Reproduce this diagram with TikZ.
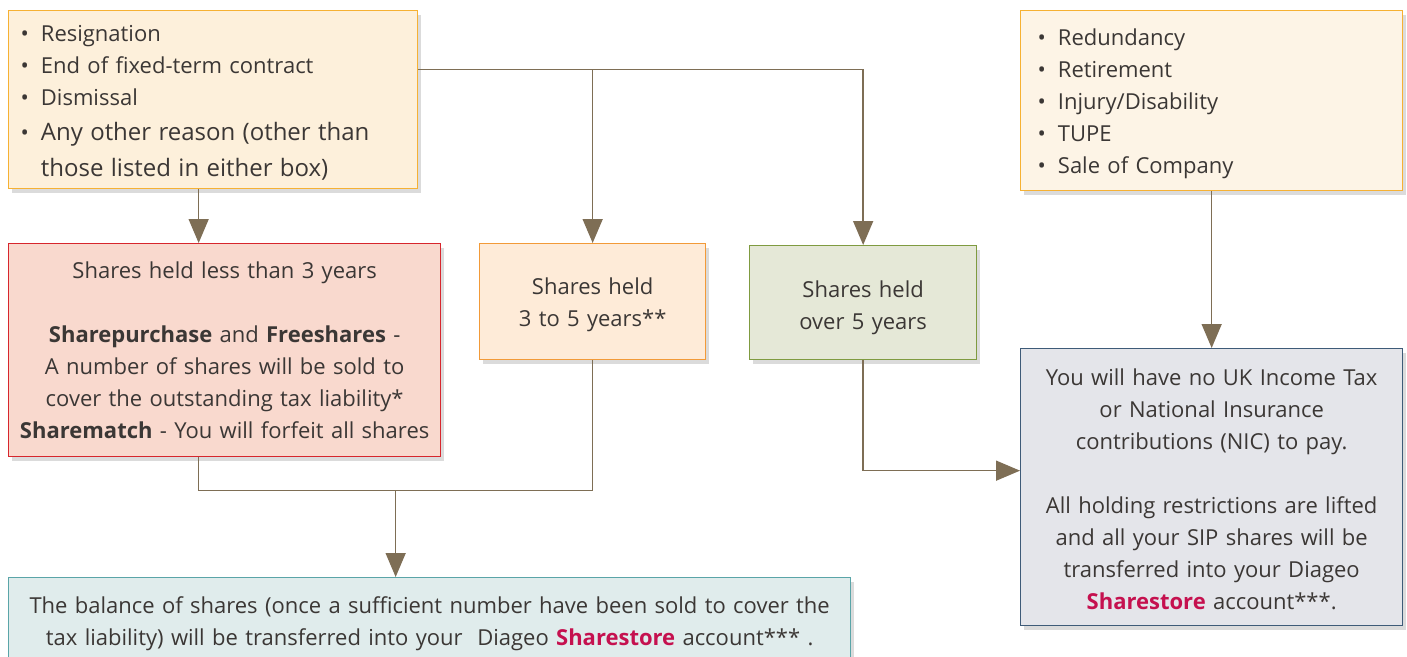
\documentclass[tikz,border=0pt]{standalone}
\usepackage{fontspec}
\setmainfont{Open Sans}
\usetikzlibrary{arrows.meta,shadows,calc}
\definecolor{txt}{HTML}{3B3735}
\definecolor{tlF}{HTML}{FDF0DB}
\definecolor{tlB}{HTML}{F6B133}
\definecolor{trF}{HTML}{FDF4E6}
\definecolor{redF}{HTML}{F9D9CE}
\definecolor{redB}{HTML}{D7262D}
\definecolor{orF}{HTML}{FEEBD8}
\definecolor{orB}{HTML}{F29A38}
\definecolor{grF}{HTML}{E5E8D7}
\definecolor{grB}{HTML}{7F9B40}
\definecolor{blF}{HTML}{E4E5EA}
\definecolor{blB}{HTML}{3E5B78}
\definecolor{teF}{HTML}{E0ECEC}
\definecolor{teB}{HTML}{5AA5A8}
\definecolor{arrC}{HTML}{7E6E55}
\definecolor{mag}{HTML}{C5114F}
\newcommand{\sst}{\textcolor{mag}{\textbf{Sharestore}}}
\newcommand{\up}[1]{\rule{0pt}{#1}}
\begin{document}
\begin{tikzpicture}[x=1pt,y=1pt,
  box/.style={draw, line width=1.3pt, inner sep=0pt, text=txt,
    font=\fontsize{22}{32}\selectfont,
    drop shadow={shadow xshift=3pt, shadow yshift=-4pt, opacity=0.14, fill=black}},
  conn/.style={draw=arrC, line width=1.5pt},
  arr/.style={conn, -{Triangle[width=20pt,length=24pt]}}]
\clip (0,0) rectangle (1407,-656);
\fill[white] (0,0) rectangle (1407,-656);

\node[box, draw=tlB, fill=tlF, minimum width=409pt, minimum height=178pt,
  anchor=north west, text width=385pt, align=left] (tl) at (8,-10)
  {\begin{tabular}{@{}l@{\hspace{12pt}}l@{}}
   \textbullet & \up{28.4pt}Resignation\\
   \textbullet & End of fixed-term contract\\
   \textbullet & Dismissal\\[3pt]
   \textbullet & {\fontsize{24}{34}\selectfont Any other reason (other than}\\[4pt]
               & {\fontsize{24}{34}\selectfont those listed in either box)}
   \end{tabular}};

\node[box, draw=tlB, fill=trF, minimum width=382pt, minimum height=180pt,
  anchor=north west, text width=348pt, align=left] (tr) at (1020,-10)
  {\begin{tabular}{@{}l@{\hspace{12pt}}l@{}}
   \textbullet & \up{26.4pt}Redundancy\\
   \textbullet & Retirement\\
   \textbullet & Injury/Disability\\
   \textbullet & TUPE\\
   \textbullet & Sale of Company
   \end{tabular}};

\node[box, draw=redB, fill=redF, minimum width=432pt, minimum height=213pt,
  anchor=north west, text width=420pt, align=center] (red) at (8,-243)
  {Shares held less than 3 years\\[32pt]
   \textbf{Sharepurchase} and \textbf{Freeshares} -\\
   A number of shares will be sold to\\
   cover the outstanding tax liability*\\
   \textbf{Sharematch} - You will forfeit all shares};

\node[box, draw=orB, fill=orF, minimum width=226pt, minimum height=116pt,
  anchor=north west, text width=210pt, align=center] (or) at (479,-243)
  {\up{23pt}Shares held\\3 to 5 years**};

\node[box, draw=grB, fill=grF, minimum width=227pt, minimum height=114pt,
  anchor=north west, text width=210pt, align=center] (gr) at (749,-245)
  {\up{26pt}Shares held\\over 5 years};

\node[box, draw=blB, fill=blF, minimum width=382pt, minimum height=277pt,
  anchor=north west, text width=370pt, align=center] (bl) at (1020,-348)
  {\up{21pt}You will have no UK Income Tax\\
   or National Insurance\\
   contributions (NIC) to pay.\\[32pt]
   All holding restrictions are lifted\\
   and all your SIP shares will be\\
   transferred into your Diageo\\
   \sst{} account***.};

\node[box, draw=teB, fill=teF, minimum width=842pt, minimum height=88pt,
  anchor=north west, text width=830pt, align=center] (te) at (8,-577)
  {\up{21pt}The balance of shares (once a sufficient number have been sold to cover the\\
   tax liability) will be transferred into your\ \ Diageo \sst{} account*** .};

% connectors
\draw[arr] ([xshift=-14.5pt]tl.south) -- ([xshift=-26pt]red.north);
\draw[arr] ([yshift=30pt]tl.east) -| (or.north);
\draw[arr] ([yshift=30pt]tl.east) -| (gr.north);
\draw[arr] (tr.south) -- (bl.north);
\draw[conn] ([xshift=-26pt]red.south) -- ++(0,-33) -| coordinate[pos=0.25] (j) (or.south);
\draw[arr] (j) -- (j |- te.north);
\draw[arr] (gr.south) |- ([yshift=16.5pt]bl.west);
\end{tikzpicture}
\end{document}
